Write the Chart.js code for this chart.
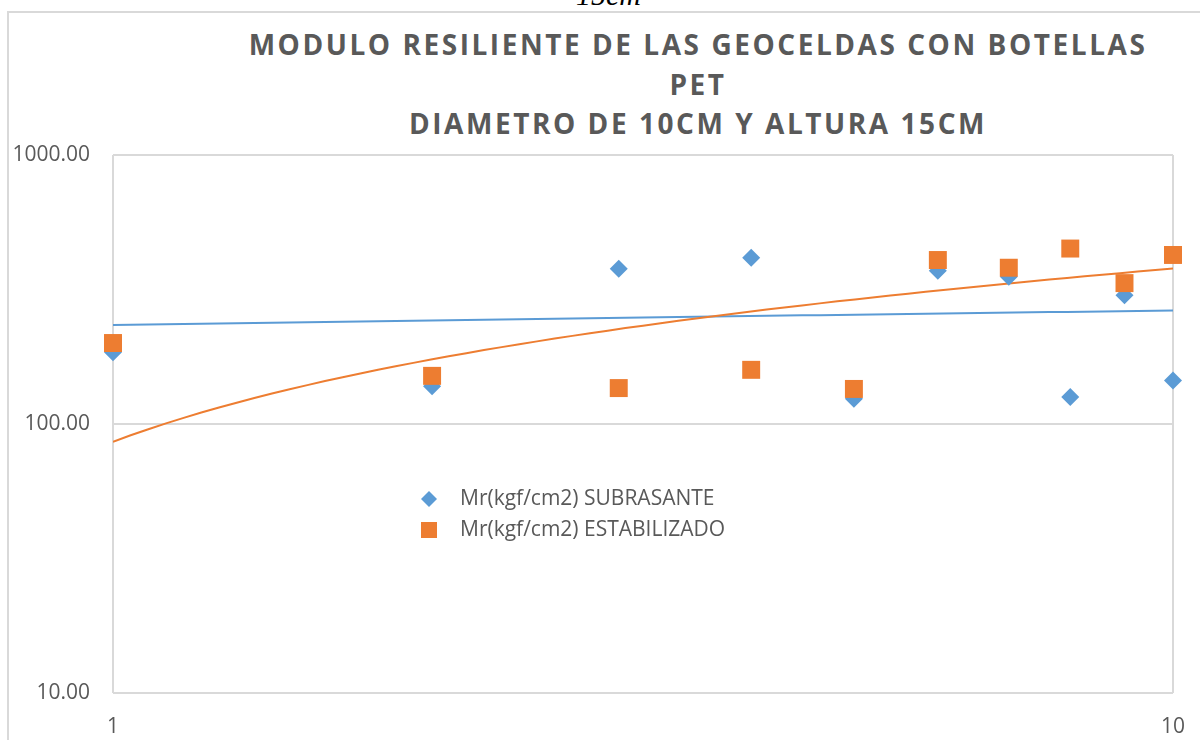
<!DOCTYPE html>
<html>
<head>
<meta charset="utf-8">
<script src="https://cdn.jsdelivr.net/npm/chart.js@4/dist/chart.umd.min.js"></script>
<style>
  html, body { margin: 0; padding: 0; background: #fff; overflow: hidden; }
  #page { position: relative; width: 1200px; height: 740px; overflow: hidden; }
  #caption {
    position: absolute; left: 576px; top: -20px;
    font: italic 30px "Liberation Serif", serif; line-height: 30px; color: #000;
  }
  #frame {
    position: absolute; left: 7px; top: 11px; width: 1300px; height: 800px;
    border-left: 2px solid #d9d9d9; border-top: 2px solid #d9d9d9;
  }
  #title {
    position: absolute; left: 198px; top: 25px; width: 1000px; text-align: center;
    white-space: nowrap;
    font: bold 28px "Open Sans", sans-serif; line-height: 39.5px;
    letter-spacing: 2.55px; color: #595959;
  }
  canvas { position: absolute; left: 0; top: 0; }
</style>
</head>
<body>
<div id="page">
  <div id="caption">15cm</div>
  <div id="frame"></div>
  <div id="title">MODULO RESILIENTE DE LAS GEOCELDAS CON BOTELLAS<br>PET<br>DIAMETRO DE 10CM Y ALTURA 15CM</div>
  <canvas id="chart" width="1200" height="740"></canvas>
</div>
<script>
  /* ===== Data ===== */
  const ensayos = [1, 2, 3, 4, 5, 6, 7, 8, 9, 10];
  const subrasante = [185, 138, 378, 415, 124, 371, 353, 126, 301, 145];
  const estabilizado = [200, 151, 136, 159, 135, 407, 381, 449, 334, 425];
  const xTicks = [1, 10];
  const yTicks = [10, 100, 1000];
  const labelSub = "Mr(kgf/cm2) SUBRASANTE";
  const labelEst = "Mr(kgf/cm2) ESTABILIZADO";

  const BLUE = "#5b9bd5";
  const ORANGE = "#ed7d31";
  const TEXT = "#595959";
  const GRID = "#d9d9d9";

  // logarithmic trendline y = a*ln(x) + b (least squares, like Excel)
  function logTrend(xs, ys) {
    const lx = xs.map((v) => Math.log(v));
    const n = xs.length;
    const mx = lx.reduce((s, v) => s + v, 0) / n;
    const my = ys.reduce((s, v) => s + v, 0) / n;
    let sxy = 0, sxx = 0;
    for (let i = 0; i < n; i++) {
      sxy += (lx[i] - mx) * (ys[i] - my);
      sxx += (lx[i] - mx) * (lx[i] - mx);
    }
    const a = sxy / sxx;
    const b = my - a * mx;
    const pts = [];
    const x0 = xs[0], x1 = xs[n - 1];
    for (let k = 0; k <= 60; k++) {
      const x = x0 * Math.pow(x1 / x0, k / 60);
      pts.push({ x, y: a * Math.log(x) + b });
    }
    return pts;
  }

  const toPoints = (ys) => ensayos.map((x, i) => ({ x, y: ys[i] }));

  // legend drawn inside the plot area
  const innerLegend = {
    id: "innerLegend",
    afterDatasetsDraw(chart) {
      const { ctx, chartArea } = chart;
      const mx = chartArea.left + 316;
      const tx = chartArea.left + 347;
      const rows = [
        { y: chartArea.top + 344, color: BLUE, shape: "diamond", text: labelSub },
        { y: chartArea.top + 375, color: ORANGE, shape: "square", text: labelEst },
      ];
      ctx.save();
      ctx.font = '21px "Open Sans"';
      ctx.textBaseline = "middle";
      rows.forEach((r) => {
        ctx.fillStyle = r.color;
        ctx.beginPath();
        if (r.shape === "diamond") {
          ctx.moveTo(mx - 8, r.y);
          ctx.lineTo(mx, r.y - 8);
          ctx.lineTo(mx + 8, r.y);
          ctx.lineTo(mx, r.y + 8);
          ctx.closePath();
        } else {
          ctx.rect(mx - 8, r.y - 8, 16, 16);
        }
        ctx.fill();
        ctx.fillStyle = TEXT;
        ctx.fillText(r.text, tx, r.y);
      });
      ctx.restore();
    },
  };

  new Chart(document.getElementById("chart"), {
    type: "scatter",
    data: {
      datasets: [
        {
          label: labelEst,
          data: toPoints(estabilizado),
          pointStyle: "rect",
          pointRadius: 12.7,
          pointHoverRadius: 12.7,
          backgroundColor: ORANGE,
          borderColor: ORANGE,
          borderWidth: 0,
          clip: false,
          order: 0,
        },
        {
          label: labelSub,
          data: toPoints(subrasante),
          pointStyle: "rectRot",
          pointRadius: 9,
          pointHoverRadius: 9,
          backgroundColor: BLUE,
          borderColor: BLUE,
          borderWidth: 0,
          clip: false,
          order: 1,
        },
        {
          label: "Logarítmica (" + labelEst + ")",
          data: logTrend(ensayos, estabilizado),
          showLine: true,
          pointRadius: 0,
          borderColor: ORANGE,
          borderWidth: 2,
          order: 2,
        },
        {
          label: "Logarítmica (" + labelSub + ")",
          data: logTrend(ensayos, subrasante),
          showLine: true,
          pointRadius: 0,
          borderColor: BLUE,
          borderWidth: 2,
          order: 3,
        },
      ],
    },
    options: {
      responsive: false,
      animation: false,
      devicePixelRatio: 1,
      layout: { autoPadding: false, padding: { left: 0, right: 27, top: 155, bottom: 0 } },
      plugins: { legend: { display: false }, tooltip: { enabled: false }, title: { display: false } },
      scales: {
        x: {
          type: "logarithmic",
          min: 1,
          max: 10,
          afterBuildTicks: (s) => { s.ticks = xTicks.map((v) => ({ value: v })); },
          afterFit: (s) => { s.height = 47; s.paddingLeft = 0; s.paddingRight = 0; },
          grid: { color: GRID, lineWidth: 2, drawTicks: false },
          border: { display: false },
          ticks: {
            color: TEXT,
            font: { family: "Open Sans", size: 21 },
            padding: 21,
            maxRotation: 0,
            callback: (v) => String(v),
          },
        },
        y: {
          type: "logarithmic",
          min: 10,
          max: 1000,
          afterBuildTicks: (s) => { s.ticks = yTicks.map((v) => ({ value: v })); },
          afterFit: (s) => { s.width = 113; s.paddingTop = 0; s.paddingBottom = 0; },
          grid: { color: GRID, lineWidth: 2, drawTicks: false },
          border: { display: false },
          ticks: {
            color: TEXT,
            font: { family: "Open Sans", size: 21 },
            padding: 23,
            callback: (v) => Number(v).toFixed(2),
          },
        },
      },
    },
    plugins: [innerLegend],
  });
</script>
</body>
</html>
